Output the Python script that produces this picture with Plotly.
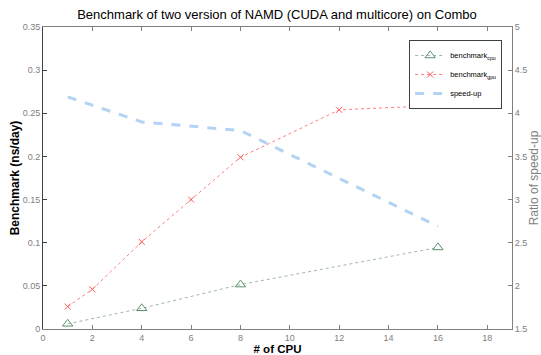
import plotly.graph_objects as go

cpu_x = [1, 4, 8, 16]
cpu_bench = [0.006, 0.024, 0.0515, 0.0945]
gpu_x = [1, 2, 4, 6, 8, 12, 16]
gpu_bench = [0.026, 0.046, 0.101, 0.150, 0.199, 0.254, 0.259]
speed_x = [1, 4, 8, 16]
speedup = [4.19, 3.90, 3.80, 2.69]

tick_font = dict(family="Liberation Sans, Arial", size=9, color="#808080")

fig = go.Figure()
fig.add_trace(go.Scatter(
    x=cpu_x, y=cpu_bench, name="benchmark<sub>cpu</sub>", mode="lines+markers",
    line=dict(color="#9fb8a8", width=1, dash="dot"),
    marker=dict(symbol="triangle-up-open", size=9, color="#5f8f6f", line=dict(width=1)),
))
fig.add_trace(go.Scatter(
    x=gpu_x, y=gpu_bench, name="benchmark<sub>gpu</sub>", mode="lines+markers",
    line=dict(color="#ff8080", width=1, dash="dot"),
    marker=dict(symbol="x-thin-open", size=6, color="#ff5a5a", line=dict(width=1, color="#ff5a5a")),
))
fig.add_trace(go.Scatter(
    x=speed_x, y=speedup, name="speed-up", mode="lines", yaxis="y2",
    line=dict(color="#b4d2f4", width=3, dash="dash"),
))

fig.update_layout(
    width=541, height=355,
    margin=dict(l=43, r=29, t=27, b=26, autoexpand=False),
    paper_bgcolor="white", plot_bgcolor="white",
    font=dict(family="Liberation Sans, Arial", color="black"),
    title=dict(text="Benchmark of two version of NAMD (CUDA and multicore) on Combo",
               x=0.512, xanchor="center", y=0.958, yanchor="middle",
               font=dict(size=13, color="black")),
    showlegend=True,
    legend=dict(x=0.979, xanchor="right", y=0.957, yanchor="top",
                bgcolor="white", bordercolor="#404040", borderwidth=1,
                font=dict(size=7.5, color="black"), itemwidth=30,
                tracegroupgap=0),
    xaxis=dict(range=[0, 19], tickvals=list(range(0, 20, 2)), ticks="inside", ticklen=4,
               tickcolor="#808080", showline=True, linecolor="#808080", linewidth=1,
               mirror="ticks", showgrid=False, zeroline=False, tickfont=tick_font,
               automargin=False,
               title=dict(text="<b># of CPU</b>", font=dict(size=11.5, color="black"), standoff=2)),
    yaxis=dict(range=[0, 0.35], tickvals=[0, 0.05, 0.1, 0.15, 0.2, 0.25, 0.3, 0.35],
               ticktext=["0", "0.05", "0.1", "0.15", "0.2", "0.25", "0.3", "0.35"],
               ticks="inside", ticklen=4, tickcolor="#404040",
               showline=True, linecolor="#404040", linewidth=1, showgrid=False, zeroline=False,
               tickfont=tick_font, automargin=False,
               title=dict(text="<b>Benchmark (ns/day)</b>", font=dict(size=12, color="black"), standoff=0)),
    yaxis2=dict(range=[1.5, 5], tickvals=[1.5, 2, 2.5, 3, 3.5, 4, 4.5, 5],
                ticktext=["1.5", "2", "2.5", "3", "3.5", "4", "4.5", "5"],
                overlaying="y", side="right", ticks="inside", ticklen=4, tickcolor="#808080",
                showline=True, linecolor="#808080", linewidth=1, showgrid=False, zeroline=False,
                tickfont=tick_font, automargin=False,
                title=dict(text="Ratio of speed-up", font=dict(size=12, color="#808080"), standoff=0)),
)

fig.write_html("out.html", config={"displayModeBar": False},
               post_script="document.body.style.margin='0';document.body.style.overflow='hidden';")
